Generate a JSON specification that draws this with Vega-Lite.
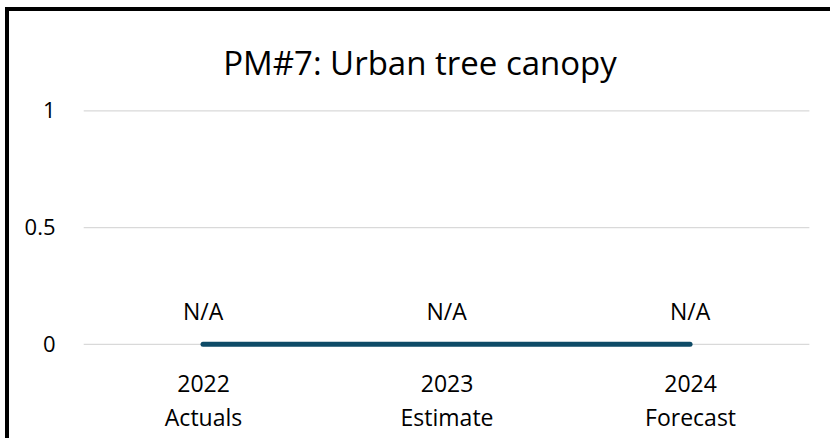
{
  "$schema": "https://vega.github.io/schema/vega-lite/v6.json",
  "width": 826,
  "height": 432,
  "autosize": {"type": "none"},
  "padding": {"left": 7, "top": 9, "right": -3, "bottom": -3},
  "background": "white",
  "config": {"view": {"stroke": "black", "strokeWidth": 4}, "font": "Open Sans"},
  "title": {"text": "PM#7: Urban tree canopy", "fontSize": 33, "fontWeight": "normal", "color": "black", "font": "Open Sans", "offset": 0, "dy": 73},
  "datasets": {
    "points": [
      {"year": 2022, "period": "Actuals", "value": 0, "label": "N/A"},
      {"year": 2023, "period": "Estimate", "value": 0, "label": "N/A"},
      {"year": 2024, "period": "Forecast", "value": 0, "label": "N/A"}
    ],
    "grid": [{"level": 0}, {"level": 0.5}, {"level": 1}]
  },
  "layer": [
    {
      "data": {"name": "grid"},
      "mark": {"type": "rule", "color": "#D9D9D9", "strokeWidth": 1.3},
      "encoding": {
        "y": {"field": "level", "type": "quantitative",
          "scale": {"domain": [-0.4145, 1.437], "nice": false, "zero": false},
          "axis": {"orient": "left", "offset": -50, "ticks": false, "domain": false, "grid": false, "values": [0, 0.5, 1], "format": ".1~f", "labelFontSize": 22, "labelPadding": 2, "labelColor": "black", "title": null, "labelFont": "Open Sans"}},
        "x": {"datum": 2021.51, "type": "quantitative",
          "scale": {"domain": [2021.195, 2024.587], "nice": false, "zero": false},
          "axis": {"orient": "bottom", "offset": -68, "ticks": false, "domain": false, "grid": false, "values": [2022, 2023, 2024], "labelExpr": "datum.value == 2022 ? ['2022', 'Actuals'] : datum.value == 2023 ? ['2023', 'Estimate'] : ['2024', 'Forecast']", "labelFontSize": 23, "labelLineHeight": 34, "labelPadding": 0, "labelColor": "black", "labelFlush": false, "labelOverlap": false, "title": null, "labelFont": "Open Sans"}},
        "x2": {"datum": 2024.49}
      }
    },
    {
      "data": {"name": "points"},
      "mark": {"type": "line", "color": "#0E4B67", "strokeWidth": 5, "strokeCap": "round"},
      "encoding": {
        "x": {"field": "year", "type": "quantitative"},
        "y": {"field": "value", "type": "quantitative"}
      }
    },
    {
      "data": {"name": "points"},
      "mark": {"type": "text", "fontSize": 23, "baseline": "alphabetic", "dy": -24, "color": "black", "font": "Open Sans"},
      "encoding": {
        "x": {"field": "year", "type": "quantitative"},
        "y": {"field": "value", "type": "quantitative"},
        "text": {"field": "label"}
      }
    }
  ]
}
